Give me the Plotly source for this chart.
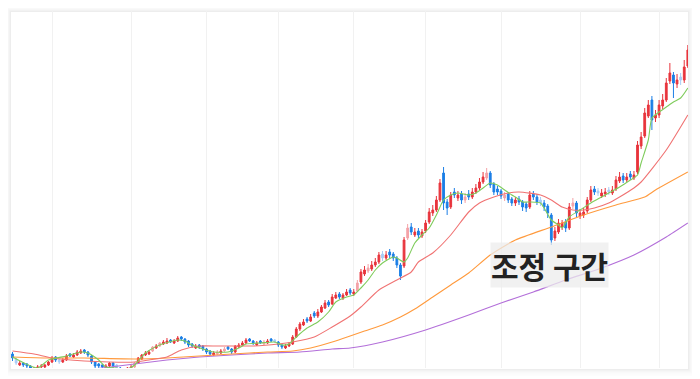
import plotly.graph_objects as go

# ---- data (price units) ----
opens = [14,9,3,5,4,2,-2,0,1,1,3,6,11,8,6,8,14,11,13,15,18,16,12,6,4,3,0,2,5,3,
         0,-4,-2,-1,1,5,9,13,14,17,20,22,24,25,28,25,27,31,29,27,24,20,23,22,19,17,13,14,15,17,
         21,19,16,21,23,25,29,27,23,27,24,25,29,28,26,23,20,22,24,31,39,43,49,47,55,52,56,60,66,64,
         70,74,70,73,78,74,77,86,94,97,99,103,106,114,110,116,114,110,103,102,130,141,133,137,132,137,146,155,158,168,
         195,166,161,176,170,174,168,174,171,176,180,186,190,195,184,179,177,170,174,169,165,169,166,164,161,174,171,168,165,162,
         153,130,136,141,146,140,162,165,152,153,157,168,179,177,172,174,178,175,179,187,192,188,194,190,196,222,232,252,268,250,
         253,262,268,287,293,284,291,288,302]
closes = [10,5,5,3,2,0,0,1,2,3,6,10,8,6,8,12,12,13,16,17,16,13,6,2,2,1,2,5,2,0,
          -3,-2,0,1,5,10,13,15,16,21,22,25,26,27,26,27,30,29,26,23,22,22,21,19,16,14,15,16,17,19,
          19,16,22,23,25,28,27,25,25,25,26,27,27,26,23,21,22,24,31,39,44,46,47,51,52,56,61,65,63,71,
          73,71,73,76,75,76,85,96,98,100,103,106,113,110,113,113,110,103,92,128,140,136,136,133,136,145,156,158,168,185,
          165,160,173,173,173,168,171,171,176,180,186,191,195,183,176,176,172,173,168,165,168,166,161,160,173,171,166,165,161,155,
          128,137,145,145,140,161,165,155,155,156,168,178,176,175,175,176,176,178,188,191,188,191,191,193,223,231,255,263,248,253,
          263,268,285,295,285,288,288,301,318]
highs = [16,10,7,6,5,3,1,3,4,4,7,12,12,9,10,14,15,15,18,19,19,17,13,7,5,4,4,6,6,4,
         1,-1,1,3,6,11,14,17,18,22,24,26,28,30,29,29,32,32,30,28,25,24,24,23,20,18,17,18,19,21,
         22,20,23,25,27,30,30,28,27,28,28,29,30,29,27,24,24,26,33,41,46,49,51,54,57,59,63,68,68,74,
         76,76,75,79,80,79,88,99,102,104,107,110,116,117,117,119,116,112,105,131,144,145,140,140,139,148,160,163,172,189,
         201,169,176,180,177,177,175,178,180,184,190,196,200,197,186,182,179,176,176,171,171,172,168,166,177,177,174,171,168,164,
         155,141,149,148,149,165,170,167,159,160,171,182,182,180,179,180,181,182,192,196,195,195,197,197,227,236,260,268,272,258,
         268,274,290,305,296,294,295,308,323]
lows = [7,3,2,1,0,-2,-3,-1,0,0,2,5,6,4,5,7,11,10,12,14,14,11,4,0,0,-1,-1,1,0,-2,
        -5,-6,-3,-2,0,4,8,12,13,16,19,21,23,24,25,24,26,27,24,21,20,19,19,17,14,12,12,13,14,16,
        18,14,15,20,22,24,26,23,22,24,23,24,26,25,21,19,19,21,23,30,37,42,45,46,50,50,55,59,61,63,
        69,69,68,72,73,72,76,84,92,95,97,101,104,107,108,110,107,100,88,100,128,133,131,130,130,135,144,152,156,166,
        158,153,159,170,167,164,165,168,169,174,178,184,188,180,173,173,169,167,165,162,162,163,157,156,159,168,163,162,157,150,
        123,127,134,138,136,138,159,151,149,150,155,166,173,172,170,171,173,173,177,185,185,186,188,188,194,219,230,250,238,246,
        250,259,266,284,270,280,283,285,300]
light_days = [1,13,29,34,39,41,57,59,70,73,96,99,103,110,126,132,137,147,156,163,166,186]

# moving averages (index, value)
ma_short_idx = [0,7,10,15,19,21,24,26,29,31,34,37,41,46,48,50,53,56,60,63,65,69,73,75,77,79,82,85,88,90,
                93,95,97,99,101,103,106,107,109,110,112,114,116,118,120,122,124,127,129,131,133,135,137,139,140,
                142,144,147,148,150,152,153,155,158,161,164,166,169,172,174,175,177,178,180,182,184,186,188]
ma_short = [11,0,8,12,16,15,8,1,0,-3,3,15,23,28,27,23,19,16,16,20,24,25,26,23,24,31,40,46,56,66,
            71,73,80,88,98,105,111,110,106,110,125,133,140,153,168,173,175,173,175,180,185,183,178,173,171,
            166,166,165,160,148,143,140,151,158,165,171,175,181,188,193,205,228,250,256,261,266,270,280]
ma_mid_idx = [0,6,11,20,27,34,38,43,47,52,57,61,67,74,78,84,89,94,97,102,107,111,113,117,122,127,130,134,138,141,
              147,150,153,156,159,162,166,169,173,175,182,188]
ma_mid = [17,14,10,7,6,6,8,11,18,22,22,22,22,24,26,31,41,52,61,78,88,96,106,115,133,156,165,171,175,176,
          173,168,161,158,158,160,165,171,180,186,218,253]
ma_long_idx = [0,10,20,34,43,52,61,71,78,83,89,94,98,103,108,112,117,122,127,133,140,150,159,168,176,179,188]
ma_long = [11,10,10,9,10,12,14,16,17,20,26,32,37,43,51,59,71,83,95,113,128,141,153,163,171,178,196]
ma_xlong_idx = [15,25,34,43,52,61,71,80,89,94,103,115,127,136,145,154,164,173,182,188]
ma_xlong = [-4,0,4,8,11,13,15,16,19,20,26,38,53,65,76,88,100,113,131,145]

month_starts = [11,33,54,74,95,115,136,158,180]
note_text = "조정 구간"
note_pos = (149.4, 103)

# ---- figure ----
idx = list(range(len(closes)))
light = set(light_days)
main_i = [i for i in idx if i not in light]
lt_i = [i for i in idx if i in light]

RED, BLUE = "#e8343c", "#1c7fe6"
LRED, LBLUE = "#f4a3a8", "#a9cdf6"

fig = go.Figure()
for sel, up, dn in [(main_i, RED, BLUE), (lt_i, LRED, LBLUE)]:
    fig.add_trace(go.Candlestick(
        x=sel, open=[opens[i] for i in sel], high=[highs[i] for i in sel],
        low=[lows[i] for i in sel], close=[closes[i] for i in sel],
        increasing=dict(line=dict(color=up, width=1), fillcolor=up),
        decreasing=dict(line=dict(color=dn, width=1), fillcolor=dn),
        whiskerwidth=0, showlegend=False, hoverinfo="skip"))

for xs, ys, col in [(ma_xlong_idx, ma_xlong, "#b36fd9"), (ma_long_idx, ma_long, "#ff9a3d"),
                    (ma_mid_idx, ma_mid, "#f07373"), (ma_short_idx, ma_short, "#7fcc5c")]:
    fig.add_trace(go.Scatter(x=xs, y=ys, mode="lines", line=dict(color=col, width=1.1, shape="spline", smoothing=0.6),
                             showlegend=False, hoverinfo="skip"))

fig.add_annotation(x=note_pos[0], y=note_pos[1], xref="x", yref="y", text=note_text, showarrow=False,
                   font=dict(family="Noto Sans CJK KR", size=30, color="#222222", weight=600),
                   bgcolor="rgba(236,236,236,0.75)", borderpad=0)

# card shadow around plot area (outline rings only, interior untouched)
W, H = 677.0, 357.0
shapes = []
alphas = [0.07, 0.05, 0.035, 0.025, 0.016, 0.01, 0.006]
for k, a in enumerate(alphas, start=1):
    off = k - 0.5
    shapes.append(dict(type="rect", xref="paper", yref="paper", layer="below",
                       x0=-off / W, x1=1 + off / W, y0=-(off + 1) / H, y1=1 + (off - 1) / H,
                       line=dict(width=1, color="rgba(0,0,0,%.3f)" % a), fillcolor="rgba(0,0,0,0)"))

fig.update_layout(
    shapes=shapes,
    width=700, height=379,
    margin=dict(l=3, r=20, t=3, b=19),
    paper_bgcolor="white", plot_bgcolor="white",
    showlegend=False,
    xaxis=dict(range=[-0.42, 188.05], tickvals=month_starts, showticklabels=False, showgrid=True,
               gridcolor="#f1f1f1", gridwidth=1, zeroline=False, showline=False, ticks="",
               rangeslider=dict(visible=False)),
    yaxis=dict(range=[0, 357], showgrid=False, showticklabels=False, zeroline=False, showline=False, ticks=""),
)
fig.write_html("out.html")
